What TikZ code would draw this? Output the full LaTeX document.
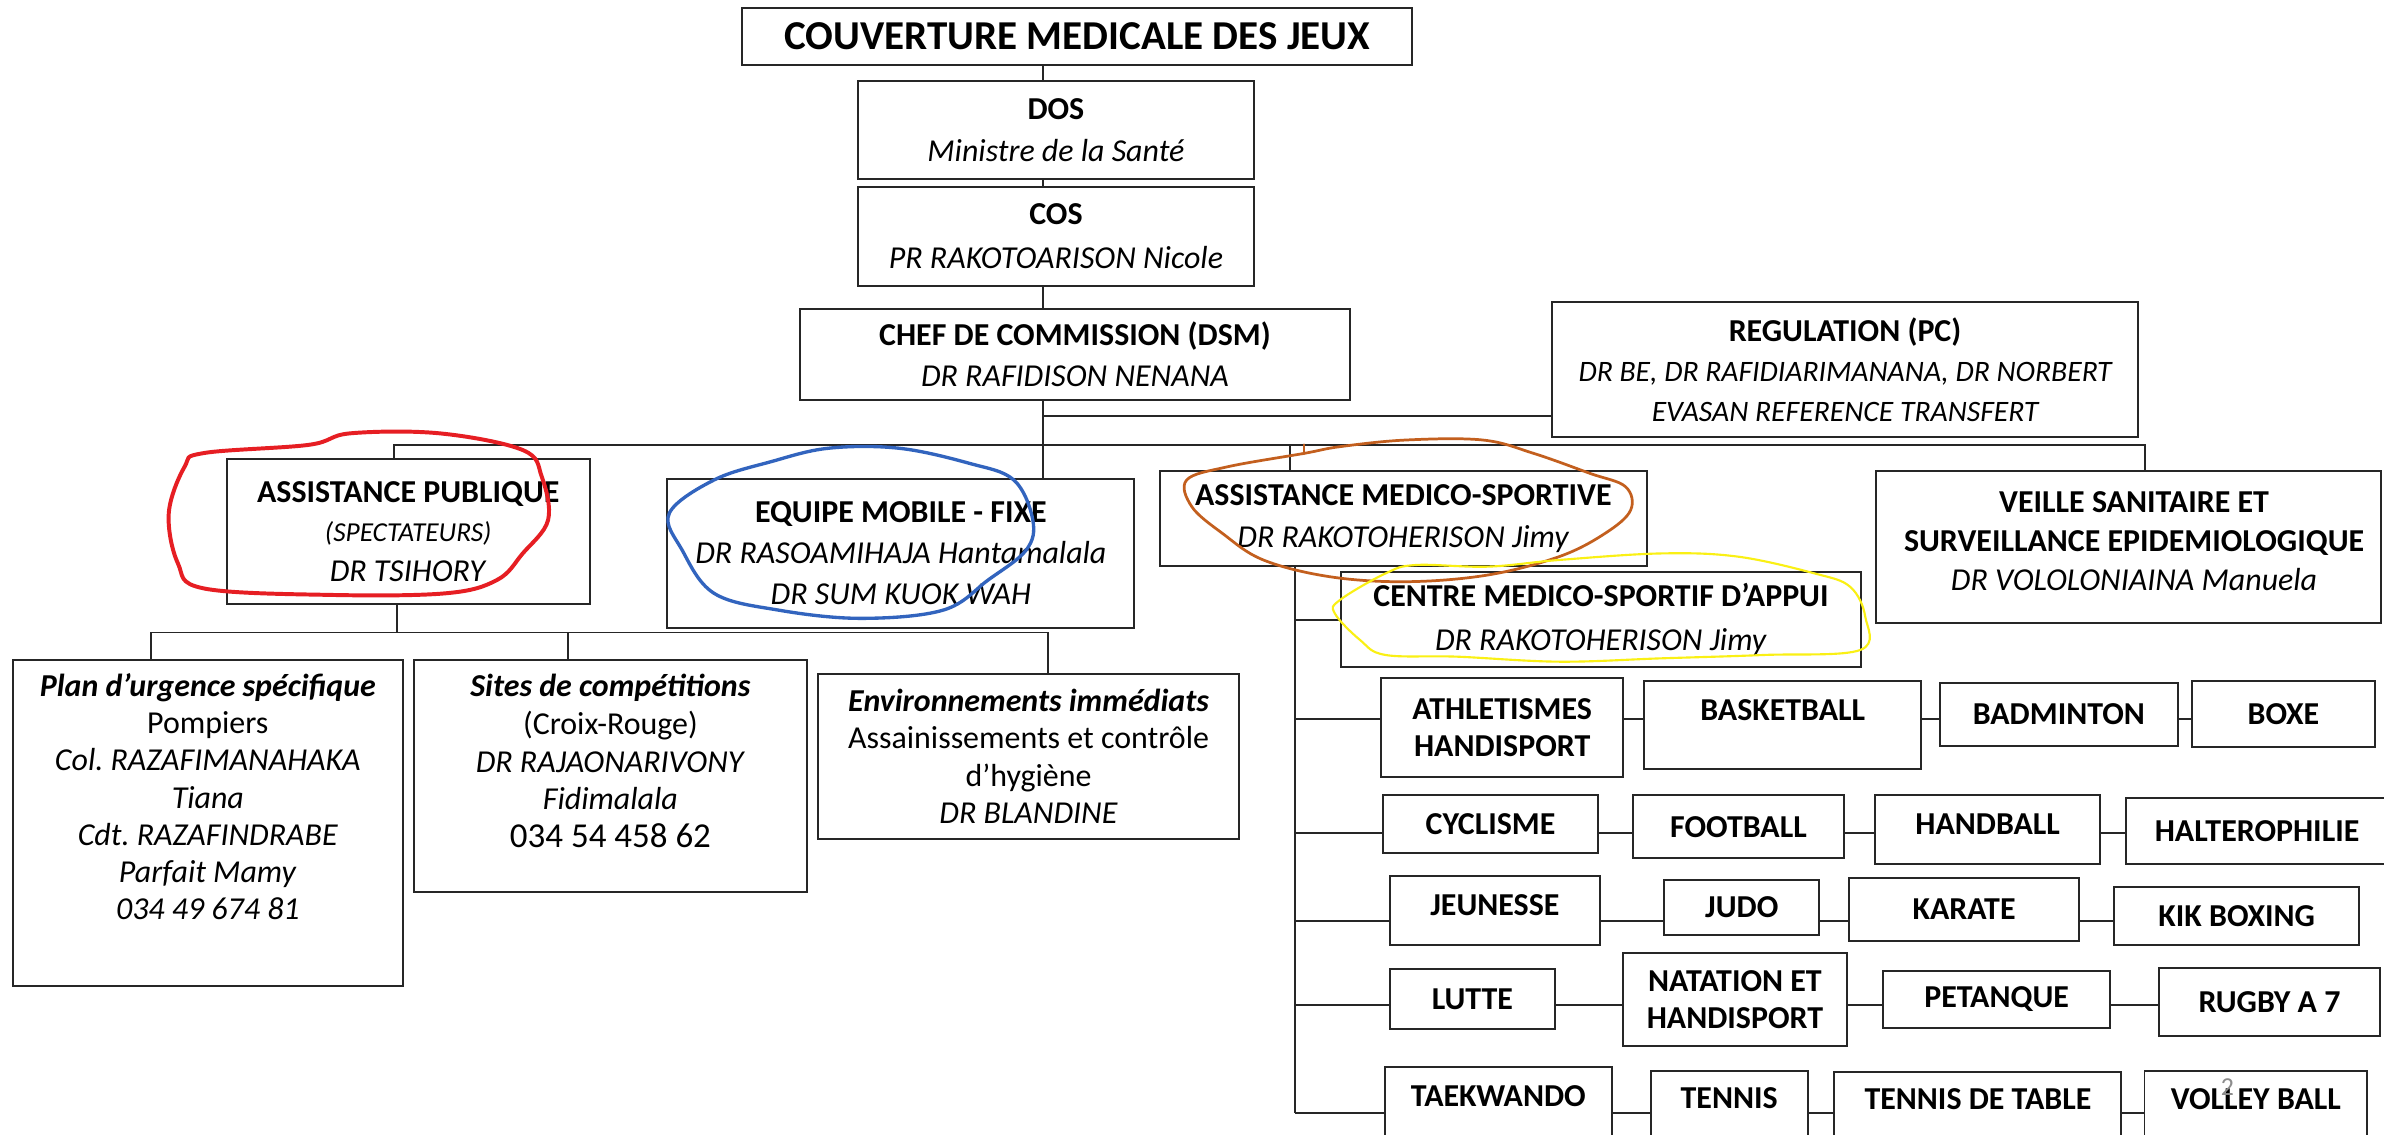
\documentclass[tikz,border=0pt]{standalone}
\usepackage{fontspec}
\setmainfont{Carlito}
\frenchspacing

\definecolor{penred}{RGB}{230,30,35}
\definecolor{penblue}{RGB}{50,100,190}
\definecolor{penbrown}{RGB}{195,95,30}
\definecolor{penyellow}{RGB}{250,240,20}

\begin{document}
\begin{tikzpicture}[x=1pt, y=-1pt,
    font=\fontsize{21}{27}\selectfont,
    box/.style={draw=black!85, line width=1.3pt, inner sep=0pt, align=center},
    txt/.style={inner sep=0pt, align=center},
    sport/.style={box, font=\fontsize{21}{24}\selectfont\bfseries},
    sporttxt/.style={txt, font=\fontsize{21}{24}\selectfont\bfseries},
    link/.style={draw=black!85, line width=1.3pt},
    pen/.style={line width=#1, line cap=round, line join=round},
    ]

        \fill[white] (0,0) rectangle (1568,746);
        \path[use as bounding box, clip] (0,0) rectangle (1568,746);

        % top of the chart
        \node[box, font=\fontsize{27}{32}\selectfont\bfseries, minimum width=441, minimum height=38] (top) at (708.5,24) {COUVERTURE MEDICALE DES JEUX};
        \node[box, font=\fontsize{21}{28}\selectfont, minimum width=261, minimum height=65] (dos) at (694.5,85.5) {\textbf{DOS}\\\textit{Ministre de la Santé}};
        \node[box, font=\fontsize{21}{29}\selectfont, minimum width=261, minimum height=65] (cos) at (694.5,155.5) {\textbf{COS}\\\textit{PR RAKOTOARISON Nicole}};
        \node[box, minimum width=362, minimum height=60] (chef) at (707,233) {\textbf{CHEF DE COMMISSION (DSM)}\\\textit{DR RAFIDISON NENANA}};
        \node[box, font=\fontsize{21}{26}\selectfont, minimum width=385, minimum height=88.5] (reg) at (1213.5,243.2) {\textbf{REGULATION (PC)}\\{\fontsize{19.5}{26}\selectfont\itshape DR BE, DR RAFIDIARIMANANA, DR NORBERT}\\{\fontsize{19.5}{26}\selectfont\itshape EVASAN REFERENCE TRANSFERT}};

        % second level
        \node[box, font=\fontsize{21}{26}\selectfont, minimum width=239, minimum height=95] (ap) at (268.5,349.5) {\textbf{ASSISTANCE PUBLIQUE}\\{\fontsize{18}{22}\selectfont\itshape (SPECTATEURS)}\\\textit{DR TSIHORY}};
        \node[box, minimum width=307, minimum height=98] (equipe) at (592.5,364) {\textbf{EQUIPE MOBILE - FIXE}\\\textit{DR RASOAMIHAJA Hantamalala}\\\textit{DR SUM KUOK WAH}};
        \node[box, font=\fontsize{21}{27.5}\selectfont, minimum width=320, minimum height=62] (ams) at (923,341) {\textbf{ASSISTANCE MEDICO-SPORTIVE}\\\textit{DR RAKOTOHERISON Jimy}};
        \node[box, font=\fontsize{21}{28.5}\selectfont, minimum width=342, minimum height=63] (cms) at (1053,407.5) {\textbf{CENTRE MEDICO-SPORTIF D’APPUI}\\\textit{DR RAKOTOHERISON Jimy}};
        \node[box, minimum width=332, minimum height=100] (veille) at (1400,360) {};
        \node[txt, font=\fontsize{21}{25.5}\selectfont] (veille-t) at (1403.6,356) {\textbf{VEILLE SANITAIRE ET}\\\textbf{SURVEILLANCE EPIDEMIOLOGIQUE}\\\textit{DR VOLOLONIAINA Manuela}};

        % under assistance publique
        \node[box, minimum width=256.5, minimum height=214.5] (plan) at (136.7,541.2) {};
        \node[txt, font=\fontsize{21}{24.5}\selectfont] (plan-t) at (136.7,524) {\textbf{\textit{Plan d’urgence spécifique}}\\Pompiers\\\textit{Col. RAZAFIMANAHAKA}\\\textit{Tiana}\\\textit{Cdt. RAZAFINDRABE}\\\textit{Parfait Mamy}\\\textit{034 49 674 81}};
        \node[box, minimum width=259, minimum height=152.5] (sites) at (401.5,510.2) {};
        \node[txt, font=\fontsize{21}{24.8}\selectfont] (sites-t) at (401.5,500.5) {\textbf{\textit{Sites de compétitions}}\\(Croix-Rouge)\\\textit{DR RAJAONARIVONY}\\\textit{Fidimalala}\\{\fontsize{23}{25}\selectfont 034 54 458 62}};
        \node[box, font=\fontsize{21}{24.5}\selectfont, minimum width=277, minimum height=108] (env) at (676.5,497.5) {\textbf{\textit{Environnements immédiats}}\\Assainissements et contrôle\\d’hygiène\\\textit{DR BLANDINE}};

        % sports
        \node[sport, minimum width=159.3, minimum height=64.9] (ath) at (988,478.7) {ATHLETISMES\\HANDISPORT};
        \node[sport, minimum width=182.1, minimum height=58.3] (bask) at (1172.5,476.9) {};
        \node[sporttxt] (bask-t) at (1172.5,467) {BASKETBALL};
        \node[sport, minimum width=156.5, minimum height=41.4] (badm) at (1354.1,469.7) {BADMINTON};
        \node[sport, minimum width=120.8, minimum height=43.8] (boxe) at (1501.8,469.6) {BOXE};

        \node[sport, minimum width=141.3, minimum height=38.1] (cycl) at (980.3,542.1) {CYCLISME};
        \node[sport, minimum width=139.3, minimum height=41.4] (foot) at (1143.4,543.8) {FOOTBALL};
        \node[sport, minimum width=148.4, minimum height=45.1] (hand) at (1307.3,545.6) {};
        \node[sporttxt] (hand-t) at (1307.3,542) {HANDBALL};
        \node[sport, minimum width=172.9, minimum height=43.5] (halt) at (1484.5,546.7) {HALTEROPHILIE};

        \node[sport, minimum width=138.4, minimum height=45.4] (jeun) at (983.2,598.8) {};
        \node[sporttxt] (jeun-t) at (983.2,595.2) {JEUNESSE};
        \node[sport, minimum width=101.8, minimum height=36.1] (judo) at (1145.6,596.8) {JUDO};
        \node[sport, minimum width=151.7, minimum height=41] (kara) at (1291.8,598.2) {KARATE};
        \node[sport, minimum width=161.3, minimum height=38.4] (kik) at (1471.1,602.3) {KIK BOXING};

        \node[sport, minimum width=108.9, minimum height=39.7] (lutte) at (968.4,657.1) {LUTTE};
        \node[sport, minimum width=147, minimum height=61] (nata) at (1141.1,657.5) {NATATION ET\\HANDISPORT};
        \node[sport, minimum width=148.9, minimum height=37.5] (peta) at (1313.2,657.1) {PETANQUE};
        \node[sport, minimum width=145.5, minimum height=44.5] (rugby) at (1492.7,659.1) {RUGBY A 7};

        \node[sport, minimum width=148.9, minimum height=60] (tkd) at (985.5,731.8) {};
        \node[sporttxt] (tkd-t) at (985.5,720.8) {TAEKWANDO};
        \node[sport, minimum width=103.2, minimum height=54.8] (ten) at (1137.3,731.8) {};
        \node[sporttxt] (ten-t) at (1137.3,722.4) {TENNIS};
        \node[sport, minimum width=188.8, minimum height=53.4] (tdt) at (1300.9,731.8) {};
        \node[sporttxt] (tdt-t) at (1300.9,723) {TENNIS DE TABLE};
        \node[sport, minimum width=146.5, minimum height=54.8] (volley) at (1483.7,731.8) {};
        \node[sporttxt] (volley-t) at (1483.7,723) {VOLLEY BALL};

        \node[text=black!45, font=\fontsize{17}{17}\selectfont] (pagenum) at (1465,715) {2};

        % connectors
        \coordinate (spine) at (686,0);
        \draw[link] (top.south -| spine) -- (dos.north -| spine);
        \draw[link] (dos.south -| spine) -- (cos.north -| spine);
        \draw[link] (cos.south -| spine) -- (chef.north -| spine);
        \draw[link] (chef.south -| spine) -- (equipe.north -| spine);
        \coordinate (regbus) at (686,273.6);
        \draw[link] (regbus) -- (regbus -| reg.west);

        \coordinate (busL) at (259,293);
        \coordinate (busR) at (1411,293);
        \draw[link] (busL |- ap.north) -- (busL) -- (busR) -- (busR |- veille.north);
        \coordinate (amsdrop) at (848.5,293);
        \draw[link] (amsdrop) -- (amsdrop |- ams.north);

        \coordinate (apdrop) at (261,416);
        \coordinate (subL) at (99,416);
        \coordinate (subR) at (689,416);
        \coordinate (sitesdrop) at (373.5,416);
        \draw[link] (apdrop |- ap.south) -- (apdrop);
        \draw[link] (subL |- plan.north) -- (subL) -- (subR) -- (subR |- env.north);
        \draw[link] (sitesdrop) -- (sitesdrop |- sites.north);

        \coordinate (sp) at (852,731.8);
        \draw[link] (ams.south -| sp) -- (sp);
        \draw[link] (sp |- cms.west) -- (cms.west);
        \coordinate (r1) at (852,472.9);
        \coordinate (r2) at (852,548.1);
        \coordinate (r3) at (852,605.5);
        \coordinate (r4) at (852,661.2);
        \coordinate (r5) at (852,731.8);
        \foreach \r/\a/\b/\c/\d in {r1/ath/bask/badm/boxe, r2/cycl/foot/hand/halt, r3/jeun/judo/kara/kik, r4/lutte/nata/peta/rugby, r5/tkd/ten/tdt/volley}
            \draw[link] (\r) -- (\r -| \a.west) (\r -| \a.east) -- (\r -| \b.west)
                (\r -| \b.east) -- (\r -| \c.west) (\r -| \c.east) -- (\r -| \d.west);

        % pen marks
        \draw[pen=2.6pt, penred] plot[smooth cycle, tension=0.6] coordinates {(203,292.6) (134,298) (121.4,307) (111,337.6) (117,370.5) (134,387) (218,391.3) (293.4,390.2) (327,381.4) (343.8,364) (360.5,342) (356.3,313.5) (343.8,296) (289,285) (230.5,285)};
        \draw[pen=2.2pt, penblue] plot[smooth cycle, tension=0.6] coordinates {(507.3,303.6) (469.6,315.7) (440.2,337.6) (448.6,361.7) (469.6,390.2) (511.5,401.2) (566,406.7) (620.6,401.2) (650,381.4) (675,361.7) (679.3,342) (666.8,315.7) (637.4,304.7) (591.2,294.8) (545,294.8)};
        \draw[pen=1.8pt, penbrown] plot[smooth cycle, tension=0.6] coordinates {(857.7,298.2) (807.4,307) (780.5,315.7) (783.9,333.3) (804,350.8) (830.9,368.3) (874.5,379.3) (924.8,382.6) (978.5,378.2) (1025.5,366.1) (1055.7,350.8) (1072.5,335.5) (1069.1,320.1) (1045.6,311.3) (1008.7,298.2) (975.2,289.4) (924.8,289.4) (881.2,293.8)};
        \draw[pen=1.8pt, penbrown] (857.7,292.5) -- (857.7,298.5);
        \draw[pen=1.4pt, penyellow] plot[smooth cycle, tension=0.6] coordinates {(911.4,377.1) (881.2,394.7) (877.9,403.4) (894.6,421) (911.4,430.8) (958.4,431.9) (1025.5,435.2) (1092.6,433) (1159.7,430.8) (1223.5,427.5) (1226.8,405.6) (1216.8,385.9) (1193.3,377.1) (1143,366.1) (1092.6,364) (1025.5,368.3) (978.5,372.7) (931.5,371.6)};
    \end{tikzpicture}
\end{document}
